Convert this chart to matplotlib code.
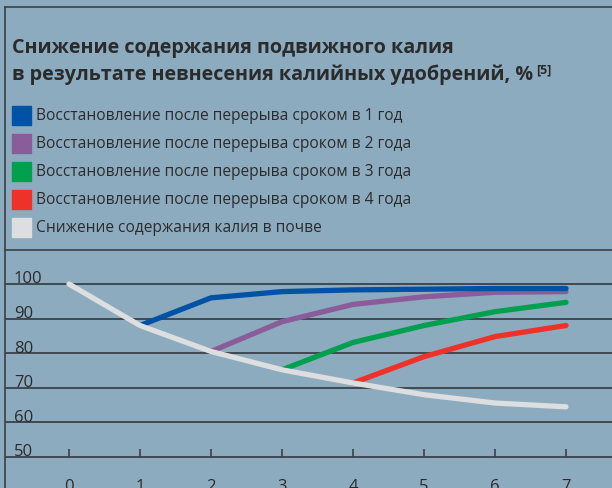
import matplotlib
matplotlib.use('Agg')
import matplotlib.pyplot as plt
from matplotlib.lines import Line2D

# data (years after stopping potash fertilization, %)
years = [0, 1, 2, 3, 4, 5, 6, 7]
soil_decline = [100, 88, 80.5, 75.2, 71.4, 68, 65.6, 64.5]
recovery_1 = [None, 88, 96, 97.8, 98.3, 98.5, 98.7, 98.7]
recovery_2 = [None, None, 80.5, 89.1, 94.1, 96.3, 97.6, 97.8]
recovery_3 = [None, None, None, 75.2, 83.1, 88, 92, 94.7]
recovery_4 = [None, None, None, None, 71.4, 79, 84.8, 88]
grid_values = [50, 60, 70, 80, 90, 100]

labels = [
    'Восстановление после перерыва сроком в 1 год',
    'Восстановление после перерыва сроком в 2 года',
    'Восстановление после перерыва сроком в 3 года',
    'Восстановление после перерыва сроком в 4 года',
    'Снижение содержания калия в почве',
]
colors = ['#0052a6', '#8a5c99', '#00a04e', '#ee3129', '#dcdedf']

BG = '#8dabbf'
INK = '#2b2b2b'
GRID = '#3b4148'
W, H = 612, 488

plt.rcParams['font.family'] = ['Open Sans', 'DejaVu Sans']

fig = plt.figure(figsize=(W / 100, H / 100), dpi=100, facecolor=BG)


def fx(px):
    return px / W


def fy(py):
    return 1 - py / H


# frame lines (left border, top border, separator above the plot)
fig.add_artist(Line2D([fx(5), fx(5)], [fy(7), 0], color=GRID, lw=1.2))
fig.add_artist(Line2D([fx(5), 1], [fy(7), fy(7)], color=GRID, lw=1.2))
fig.add_artist(Line2D([fx(5), 1], [fy(250), fy(250)], color=GRID, lw=1.2))

# title
fig.text(fx(12), fy(53), 'Снижение содержания подвижного калия',
         fontsize=14.2, fontweight='bold', color=INK, va='baseline')
fig.text(fx(12), fy(80), 'в результате невнесения калийных удобрений, %',
         fontsize=14.2, fontweight='bold', color=INK, va='baseline')
fig.text(fx(536), fy(73), '[5]', fontsize=9, fontweight='bold',
         color=INK, va='baseline')

# legend
for i, (lab, col) in enumerate(zip(labels, colors)):
    cy = 116 + i * 28
    fig.patches.append(plt.Rectangle((fx(12), fy(cy + 9)), fx(19), 19 / H,
                                     transform=fig.transFigure, color=col))
    fig.text(fx(36), fy(cy), lab, fontsize=11.2, color=INK, va='center')

# plot area
ax = fig.add_axes([fx(5), 0, 1 - fx(5), fy(250)])
ax.set_facecolor('none')
x0, xs = 69, 71.0
y100, ys = 284, 3.46
ax.set_xlim((5 - x0) / xs, (W - x0) / xs)
ax.set_ylim(100 - (H - y100) / ys, 100 + (y100 - 250) / ys)

for v in grid_values:
    ax.axhline(v, color=GRID, lw=1.3, zorder=1)
    ax.text((14 - x0) / xs, v + 0.2, str(v), fontsize=12, color=INK,
            ha='left', va='baseline', zorder=2)

series = [recovery_4, recovery_3, recovery_2, recovery_1]
for s, col in zip(series, colors[3::-1]):
    xx = [x for x, v in zip(years, s) if v is not None]
    yy = [v for v in s if v is not None]
    ax.plot(xx, yy, color=col, lw=3.8, solid_capstyle='round',
            solid_joinstyle='round', zorder=3)
ax.plot(years, soil_decline, color=colors[4], lw=3.8,
        solid_capstyle='round', solid_joinstyle='round', zorder=4)

for sp in ['top', 'right', 'left']:
    ax.spines[sp].set_visible(False)
ax.spines['bottom'].set_position(('data', 50))
ax.spines['bottom'].set_visible(False)
ax.set_yticks([])
ax.set_xticks(years)
ax.set_xticklabels([str(y) for y in years])
ax.tick_params(axis='x', direction='in', length=6, width=1.2, color=GRID,
               labelcolor=INK, labelsize=12, pad=16)

fig.savefig('out.png', dpi=100, facecolor=BG)
